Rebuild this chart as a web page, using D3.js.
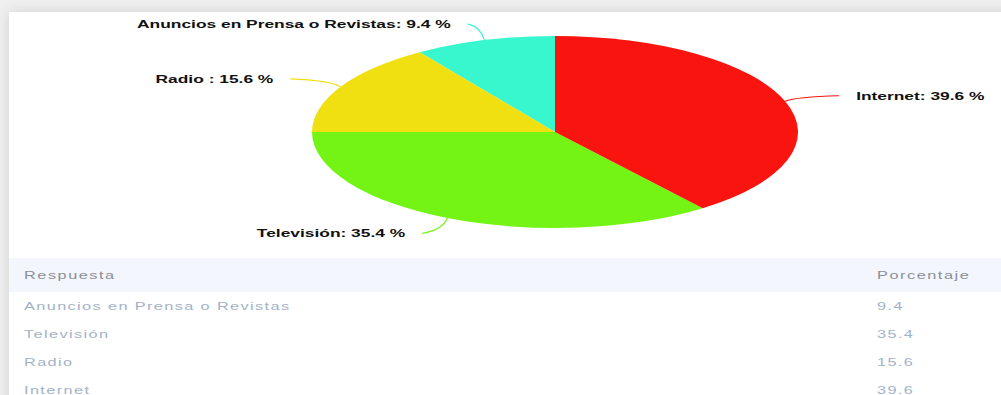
<!DOCTYPE html>
<html>
<head>
<meta charset="utf-8">
<script src="https://cdn.jsdelivr.net/npm/d3@7"></script>
<style>
  html, body { margin: 0; padding: 0; width: 1001px; height: 395px; overflow: hidden; background: #efefef; }
  .card { position: absolute; left: 9px; top: 12px; width: 1020px; height: 420px; background: #fff;
          box-shadow: 0 0 12px rgba(0, 0, 0, 0.12); }
  svg { position: absolute; left: 0; top: 0; font-family: "Liberation Sans", Arial, sans-serif; }
</style>
</head>
<body>
<div class="card"></div>
<svg id="chart" width="1001" height="395"></svg>
<script>
// data, table order
const categories = ['Anuncios en Prensa o Revistas', 'Televisión', 'Radio', 'Internet'];
const labelNames = ['Anuncios en Prensa o Revistas', 'Televisión', 'Radio ', 'Internet'];
const percentages = [9.4, 35.4, 15.6, 39.6];
const sliceColors = ['#38f7cf', '#74f414', '#f1e011', '#f91410'];
const headers = ['Respuesta', 'Porcentaje'];

const svg = d3.select('#chart');
const labelStretch = 1.58; // text in the picture is wide
const tableStretch = 1.55;

const data = categories.map((name, i) => ({
  name, label: labelNames[i], value: percentages[i], color: sliceColors[i]
}));

// pie (ellipse: circle squashed into 243 x 96)
const cx = 555, cy = 132;
const R = 96, sx = 243 / 96;
const labelR = 113, lsx = 300 / 113;

const pie = d3.pie().value(d => d.value).sort((a, b) => b.value - a.value);
const arcs = pie(data);
const arc = d3.arc().innerRadius(0).outerRadius(R);
const edgeArc = d3.arc().innerRadius(R).outerRadius(R);
const outerArc = d3.arc().innerRadius(labelR).outerRadius(labelR);

const g = svg.append('g').attr('transform', `translate(${cx},${cy})`);

g.append('g')
  .attr('transform', `scale(${sx},1)`)
  .selectAll('path')
  .data(arcs)
  .join('path')
  .attr('d', arc)
  .attr('fill', d => d.data.color);

arcs.forEach(d => {
  const e = edgeArc.centroid(d);
  const o = outerArc.centroid(d);
  d.start = [e[0] * sx, e[1]];
  d.end = [o[0] * lsx, o[1]];
});

const lerp = (a, b, t) => a + (b - a) * t;

g.selectAll('path.connector')
  .data(arcs)
  .join('path')
  .attr('class', 'connector')
  .attr('fill', 'none')
  .attr('stroke', d => d.data.color)
  .attr('stroke-width', 1.2)
  .attr('d', d => {
    const [x0, y0] = d.start, [x1, y1] = d.end;
    const c = [lerp(x1, x0, 0.8), lerp(y0, y1, 0.8)];
    return `M${x0},${y0}Q${c[0]},${c[1]} ${x1},${y1}`;
  });

g.selectAll('g.label')
  .data(arcs)
  .join('g')
  .attr('class', 'label')
  .attr('transform', d => {
    const right = d.end[0] > 0;
    return `translate(${d.end[0] + (right ? 17 : -17)},${d.end[1]}) scale(${labelStretch},1)`;
  })
  .append('text')
  .attr('text-anchor', d => d.end[0] > 0 ? 'start' : 'end')
  .attr('dy', '0.35em')
  .attr('font-size', 11)
  .attr('font-weight', 'bold')
  .attr('fill', '#111')
  .text(d => `${d.data.label}: ${d.data.value} %`);

// table
const headTop = 258, headH = 34, rowH = 28;
const colX = [24, 877];

svg.append('rect')
  .attr('x', 9).attr('y', headTop)
  .attr('width', 1001).attr('height', headH)
  .attr('fill', '#f3f6fc');

svg.selectAll('g.head')
  .data(headers)
  .join('g')
  .attr('class', 'head')
  .attr('transform', (d, i) => `translate(${colX[i]},${headTop + headH / 2}) scale(${tableStretch},1)`)
  .append('text')
  .attr('dy', '0.35em')
  .attr('font-size', 10.5)
  .attr('letter-spacing', 1)
  .attr('fill', '#8a8e96')
  .text(d => d);

const y = d3.scaleBand()
  .domain(categories)
  .range([headTop + headH, headTop + headH + rowH * categories.length]);

const rows = svg.selectAll('g.row')
  .data(data)
  .join('g')
  .attr('class', 'row')
  .attr('transform', d => `translate(0,${y(d.name) + y.bandwidth() / 2})`);

[d => d.name, d => d.value].forEach((f, i) => {
  rows.append('g')
    .attr('transform', `translate(${colX[i]},0) scale(${tableStretch},1)`)
    .append('text')
    .attr('dy', '0.35em')
    .attr('font-size', 10.5)
    .attr('letter-spacing', 0.9)
    .attr('fill', '#a2b2c8')
    .text(f);
});
</script>
</body>
</html>
